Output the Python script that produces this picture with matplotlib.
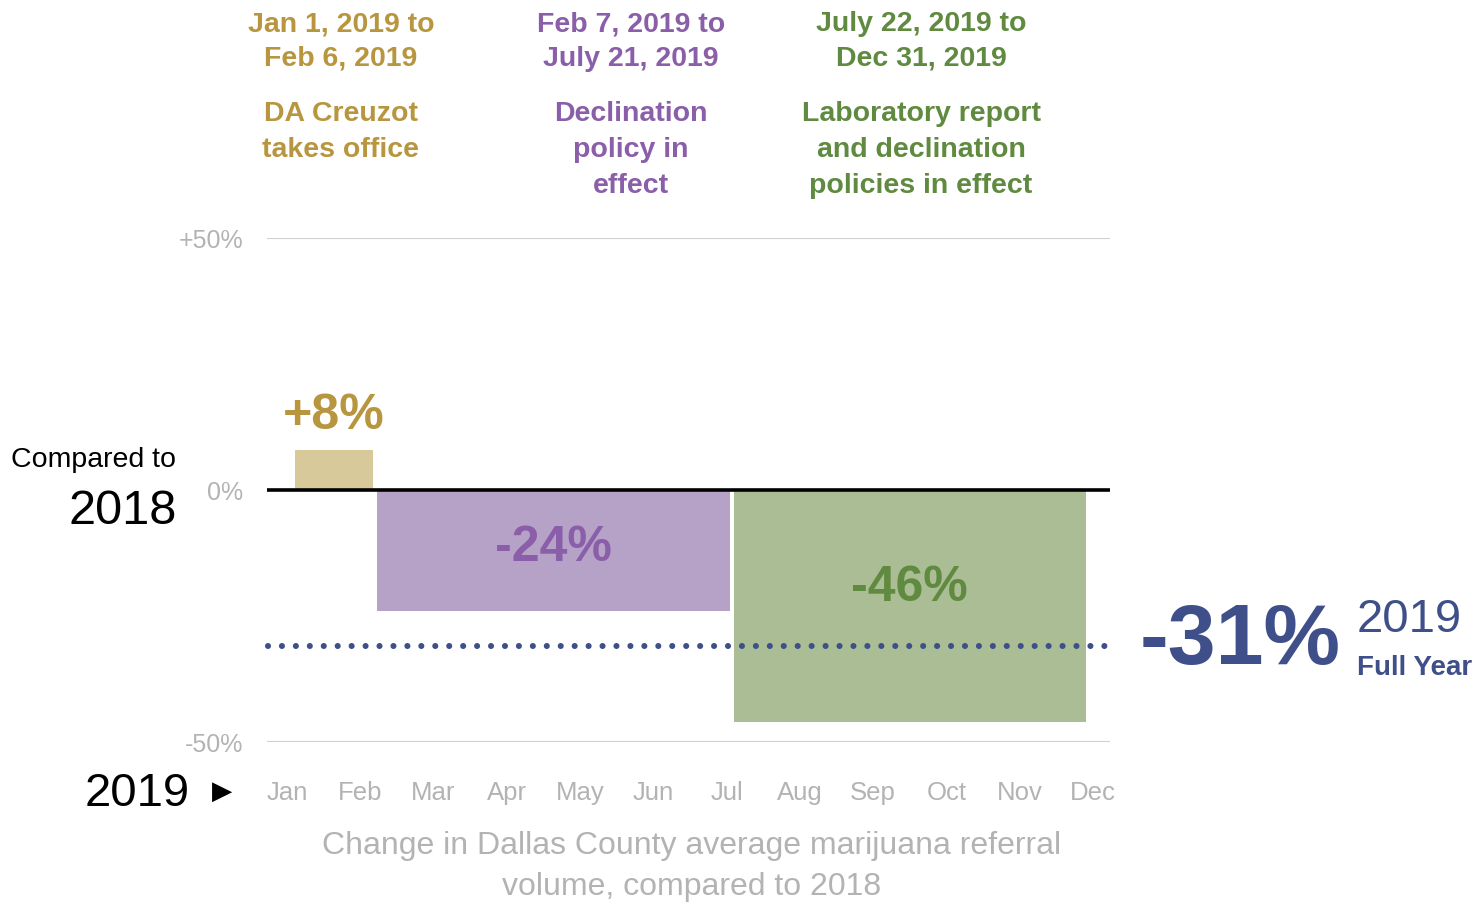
import matplotlib
matplotlib.use("Agg")
import matplotlib.pyplot as plt

# data
months = ["Jan", "Feb", "Mar", "Apr", "May", "Jun", "Jul", "Aug", "Sep", "Oct", "Nov", "Dec"]
period_dates = [("Jan 1, 2019 to", "Feb 6, 2019"),
                ("Feb 7, 2019 to", "July 21, 2019"),
                ("July 22, 2019 to", "Dec 31, 2019")]
period_notes = [["DA Creuzot", "takes office"],
                ["Declination", "policy in", "effect"],
                ["Laboratory report", "and declination", "policies in effect"]]
period_start = [0.11, 1.23, 6.10]   # in months from Jan
period_end = [1.17, 6.05, 10.90]
period_change = [8, -24, -46]
full_year_change = -31

bar_colors = ["#d8c99b", "#b6a1c7", "#aabd95"]
text_colors = ["#b8963f", "#8a5ea9", "#5f8a3f"]
blue = "#3f4f89"
gray = "#b3b3b3"

plt.rcParams["font.family"] = ["Liberation Sans", "DejaVu Sans"]

W, H = 1476, 902
fig = plt.figure(figsize=(W / 100, H / 100), dpi=100)


def fx(x):
    return x / W


def fy(y):
    return 1 - y / H


ax = fig.add_axes([fx(267), fy(742), (1110 - 267) / W, (742 - 238) / H])
mpx = 73.27
ax.set_xlim(-20 / mpx, (1110 - 287) / mpx)
ax.set_ylim(-50, 50)

for s, e, v, c in zip(period_start, period_end, period_change, bar_colors):
    ax.bar(s, v, width=e - s, align="edge", color=c, zorder=2)

ax.axhline(50, color="#d0d0d0", lw=1.5, zorder=1)
ax.axhline(-50, color="#d0d0d0", lw=1.5, zorder=1)
ax.axhline(0, color="black", lw=2.6, zorder=3)

xmin, xmax = ax.get_xlim()
ax.plot([xmin + 0.02, xmax], [full_year_change, full_year_change], color=blue,
        lw=4.4, linestyle=(0, (0.001, 2.28)), dash_capstyle="round", zorder=4,
        clip_on=False)

for sp in ax.spines.values():
    sp.set_visible(False)
ax.set_xticks(range(len(months)))
ax.set_xticklabels(months, color=gray, fontsize=18.5)
ax.set_yticks([50, 0, -50])
ax.set_yticklabels(["+50%", "0%", "-50%"], color=gray, fontsize=18)
ax.tick_params(axis="x", length=0, pad=28)
ax.tick_params(axis="y", length=0, pad=17)

# bar value labels
label_y = [416, 548, 588]
for s, e, v, c, ly in zip(period_start, period_end, period_change, text_colors, label_y):
    lab = f"+{v}%" if v > 0 else f"-{abs(v)}%"
    xc = (s + e) / 2
    ax.text(xc, 50 - (ly - 238) / 5.04, lab, ha="center", va="center",
            fontsize=36, fontweight="bold", color=c)

# period headers
head_x = [341, 631, 921]
for (d1, d2), note, c, hx in zip(period_dates, period_notes, text_colors, head_x):
    for txt, yy in zip([d1, d2], [24, 59]):
        fig.text(fx(hx), fy(yy), txt, ha="center", va="center", fontsize=20.5,
                 fontweight="bold", color=c)
    for i, txt in enumerate(note):
        fig.text(fx(hx), fy(114 + 36 * i), txt, ha="center", va="center", fontsize=20.5,
                 fontweight="bold", color=c)

# left labels
fig.text(fx(176), fy(460), "Compared to", ha="right", va="center", fontsize=20.5, color="black")
fig.text(fx(177), fy(511), "2018", ha="right", va="center", fontsize=35, color="black")
fig.text(fx(190), fy(794), "2019", ha="right", va="center", fontsize=34, color="black")
fig.text(fx(222), fy(792), "\u25B6", ha="center", va="center", fontsize=19, color="black",
         family="DejaVu Sans")

# full year
fig.text(fx(1240), fy(642), f"-{abs(full_year_change)}%", ha="center", va="center",
         fontsize=62, fontweight="bold", color=blue)
fig.text(fx(1357), fy(620), "2019", ha="left", va="center", fontsize=34, color=blue)
fig.text(fx(1357), fy(668), "Full Year", ha="left", va="center", fontsize=20,
         fontweight="bold", color=blue)

# caption
fig.text(fx(692), fy(846), "Change in Dallas County average marijuana referral",
         ha="center", va="center", fontsize=23, color=gray)
fig.text(fx(692), fy(887), "volume, compared to 2018",
         ha="center", va="center", fontsize=23, color=gray)

fig.savefig("out.png", dpi=100)
